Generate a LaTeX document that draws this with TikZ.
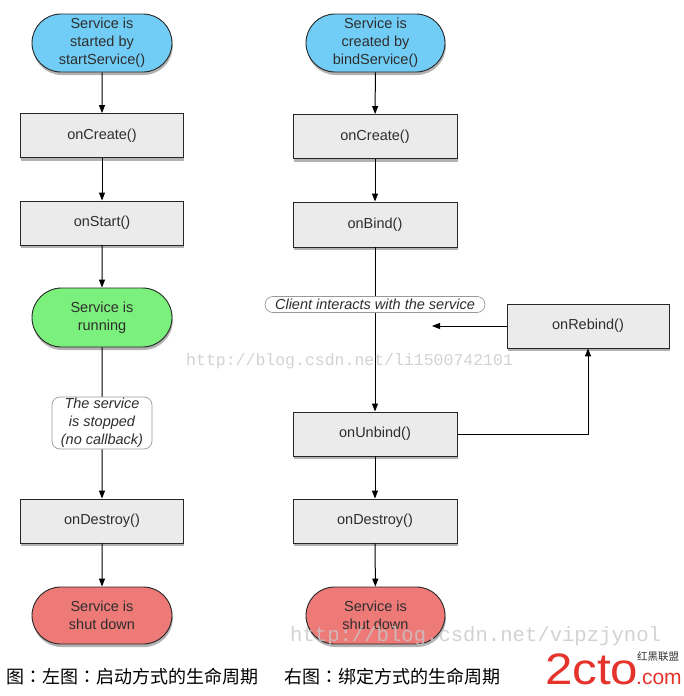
\documentclass[tikz,border=0pt]{standalone}
\usepackage{fontspec}
\setmainfont{Liberation Sans}
\newfontfamily\cjk{Noto Sans CJK SC}
\newfontfamily\cjktc{Noto Sans CJK TC}
\newfontfamily\wmfont{Liberation Mono}
\usetikzlibrary{shapes.misc,shadows,arrows.meta}
\definecolor{startblue}{HTML}{72CDF6}
\definecolor{rungreen}{HTML}{7CF07C}
\definecolor{downred}{HTML}{EE7A78}
\definecolor{boxgray}{HTML}{EBEBEB}
\definecolor{txtgray}{HTML}{2E2E2E}
\definecolor{logored}{HTML}{E5322A}
\newcommand{\cjkcolon}{{\cjktc ：}}
\tikzset{
  every node/.style={font=\fontsize{14.5}{18}\selectfont, text=txtgray, align=center, inner sep=0pt},
  soft/.style={drop shadow={shadow xshift=0.8pt, shadow yshift=-3pt, fill=black, opacity=0.3}},
  stadium/.style={rounded rectangle, draw=black!85, line width=0.9pt, minimum width=140pt, minimum height=58pt, soft},
  methodbox/.style={rectangle, draw=black!85, line width=0.9pt, fill=boxgray, minimum width=163pt, minimum height=44pt, soft},
  note/.style={draw=black!40, line width=0.7pt, fill=white, font=\itshape\fontsize{14.5}{18}\selectfont},
  flow/.style={draw=black, line width=1pt, -{Triangle[length=8pt,width=6pt]}},
  watermark/.style={text=black!22, opacity=0.8, font=\wmfont, inner sep=0pt},
  caption/.style={text=black, font=\cjk\fontsize{18}{20}\selectfont},
  logotext/.style={anchor=base west, text=logored, text depth=0pt},
}
\begin{document}
\begin{tikzpicture}[x=1pt,y=-1pt]
\useasboundingbox (0,0) rectangle (684,696);
% left column
\node[stadium, fill=startblue] (ls) at (102,43) {Service is\\started by\\startService()};
\node[methodbox] (lc) at (102,135.5) {onCreate()};
\node[methodbox] (lst) at (102,223) {onStart()};
\node[stadium, fill=rungreen, minimum height=59pt] (lr) at (102,317.5) {Service is\\running};
\node[methodbox] (ld) at (102,521) {onDestroy()};
\node[stadium, fill=downred, minimum height=57pt] (lsd) at (102,615.5) {Service is\\shut down};
\draw[flow] (ls) -- (lc);
\draw[flow] (lc) -- (lst);
\draw[flow] (lst) -- (lr);
\draw[flow] (lr) -- (ld);
\draw[flow] (ld) -- (lsd);
\node[note, rectangle, rounded corners=8pt, minimum width=100pt, minimum height=52pt] (lstop) at (102,423) {The service\\is stopped\\(no callback)};
% right column
\node[stadium, fill=startblue, minimum width=139pt] (rs) at (375.5,43) {Service is\\created by\\bindService()};
\node[methodbox, minimum width=164pt] (rc) at (375,136.5) {onCreate()};
\node[methodbox, minimum width=164pt, minimum height=45pt] (rb) at (375,224.5) {onBind()};
\node[methodbox, minimum width=162pt] (rrb) at (588,326) {onRebind()};
\node[methodbox, minimum width=164pt] (ru) at (375,434) {onUnbind()};
\node[methodbox, minimum width=164pt] (rd) at (375,521) {onDestroy()};
\node[stadium, fill=downred, minimum width=139pt, minimum height=57pt] (rsd) at (375.5,615.5) {Service is\\shut down};
\coordinate (rtip) at (432,326);
\draw[flow] (rs) -- (rc);
\draw[flow] (rc) -- (rb);
\draw[flow] (rb) -- (ru);
\draw[flow] (ru) -- (rd);
\draw[flow] (rd) -- (rsd);
\draw[flow] (rrb.west) -- (rtip);
\draw[flow] (ru.east) -| (rrb.south);
\node[note, rounded rectangle, minimum width=220pt, minimum height=16pt] (rclient) at (375,304.5) {Client interacts with the service};
% watermarks
\node[watermark, anchor=base west, font=\wmfont\fontsize{16.5}{18}\selectfont] (wm1) at (186,365) {http://blog.csdn.net/li1500742101};
\node[watermark, anchor=base west, font=\wmfont\fontsize{20.6}{22}\selectfont] (wm2) at (290,641) {http://blog.csdn.net/vipzjynol};
% caption
\node[anchor=west, caption] (capl) at (6,677) {图\cjkcolon 左图\cjkcolon 启动方式的生命周期};
\node[anchor=west, caption] (capr) at (284,677) {右图\cjkcolon 绑定方式的生命周期};
% logo
\node[logotext, font=\fontsize{44}{44}\selectfont, xscale=1.12] (logo) at (545,684) {2cto};
\node[logotext, font=\fontsize{21}{21}\selectfont] (logocom) at (636,684) {.com};
\node[anchor=base west, text=black!80, text depth=0pt, font=\cjk\fontsize{10.5}{11}\selectfont] (logocn) at (637,660) {红黑联盟};
\end{tikzpicture}
\end{document}
